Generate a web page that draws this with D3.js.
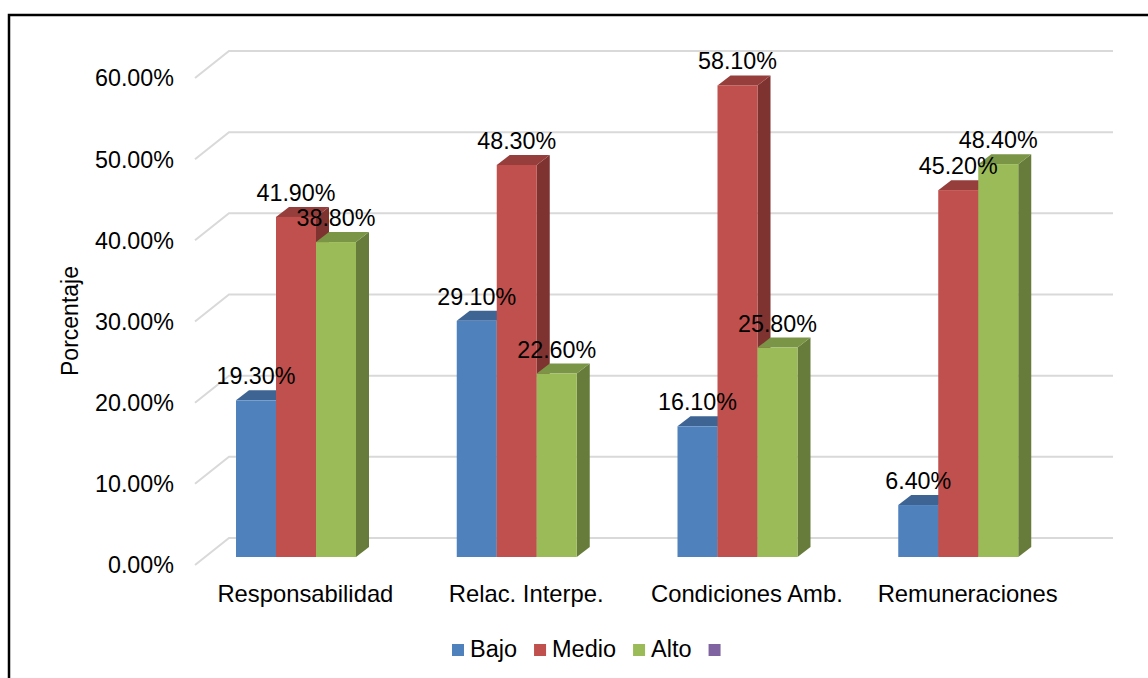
<!DOCTYPE html>
<html>
<head>
<meta charset="utf-8">
<script src="https://cdn.jsdelivr.net/npm/d3@7"></script>
<style>
  body { margin: 0; background: #fff; }
  svg { display: block; }
  text { font-family: "Liberation Sans", Arial, sans-serif; fill: #000; }
</style>
</head>
<body>
<svg width="1148" height="678"></svg>
<script>
// datos
const categories = ['Responsabilidad', 'Relac. Interpe.', 'Condiciones Amb.', 'Remuneraciones'];
const seriesNames = ['Bajo', 'Medio', 'Alto'];
const bajo = [0.193, 0.291, 0.161, 0.064];
const medio = [0.419, 0.483, 0.581, 0.452];
const alto = [0.388, 0.226, 0.258, 0.484];
const yTicks = [0, 0.1, 0.2, 0.3, 0.4, 0.5, 0.6];

const series = [bajo, medio, alto];
const colors = [
  {front: '#4F81BD', top: '#3E6494', side: '#36577F'},
  {front: '#C0504D', top: '#963E3B', side: '#7E3331'},
  {front: '#9BBB59', top: '#7A9546', side: '#677C3A'}
];
const legendColors = ['#4F81BD', '#C0504D', '#9BBB59', '#8064A2'];

const svg = d3.select('svg');
const width = +svg.attr('width');
const height = +svg.attr('height');

// marco
svg.append('rect')
  .attr('x', 9).attr('y', 15)
  .attr('width', width + 20).attr('height', height + 20)
  .attr('fill', 'none').attr('stroke', '#000').attr('stroke-width', 2.5);

// profundidad 3D
const gridDx = 34, gridBack = 19, gridFront = 8;
const barDx = 13, barDy = 10;
const barW = 40;

const x = d3.scaleBand().domain(categories).range([195, 1078]);
const y = d3.scaleLinear().domain([0, 0.6]).range([557, 70]);

// lineas de la cuadricula
const grid = svg.append('g');
yTicks.forEach(t => {
  const yy = y(t);
  grid.append('polyline')
    .attr('points', `195,${yy + gridFront} ${195 + gridDx},${yy - gridBack} 1113,${yy - gridBack}`)
    .attr('fill', 'none').attr('stroke', '#D9D9D9').attr('stroke-width', 2);
});

// etiquetas del eje y
svg.append('g').selectAll('text').data(yTicks).enter()
  .append('text')
    .attr('x', 174)
    .attr('y', d => y(d) + gridFront)
    .attr('dy', '0.36em')
    .attr('text-anchor', 'end')
    .style('font-size', '23.3px')
    .text(d => d3.format('.2%')(d));

// titulo eje y
svg.append('text')
  .attr('transform', 'translate(78,321) rotate(-90)')
  .attr('text-anchor', 'middle')
  .style('font-size', '23px')
  .text('Porcentaje');

// barras
const bars = svg.append('g');
categories.forEach((c, i) => {
  const x0 = x(c) + 41;
  series.forEach((s, j) => {
    const v = s[i];
    const bx = x0 + j * barW;
    const top = y(v);
    const bottom = y(0);
    const col = colors[j];
    // lado
    bars.append('polygon')
      .attr('points', `${bx + barW},${top} ${bx + barW + barDx},${top - barDy} ${bx + barW + barDx},${bottom - barDy} ${bx + barW},${bottom}`)
      .attr('fill', col.side);
    // tapa
    bars.append('polygon')
      .attr('points', `${bx},${top} ${bx + barDx},${top - barDy} ${bx + barW + barDx},${top - barDy} ${bx + barW},${top}`)
      .attr('fill', col.top);
    // frente
    bars.append('rect')
      .attr('x', bx).attr('y', top)
      .attr('width', barW).attr('height', bottom - top)
      .attr('fill', col.front);
  });
});

// etiquetas de datos
const labels = svg.append('g');
categories.forEach((c, i) => {
  const x0 = x(c) + 41;
  series.forEach((s, j) => {
    labels.append('text')
      .attr('x', x0 + j * barW + barW / 2)
      .attr('y', y(s[i]) - 16)
      .attr('text-anchor', 'middle')
      .style('font-size', '23.3px')
      .text(d3.format('.2%')(s[i]));
  });
});

// etiquetas categorias
svg.append('g').selectAll('text').data(categories).enter()
  .append('text')
    .attr('x', d => x(d) + x.bandwidth() / 2)
    .attr('y', 602)
    .attr('text-anchor', 'middle')
    .style('font-size', '23.8px')
    .text(d => d);

// leyenda
const legend = svg.append('g');
let lx = 452;
const legendNames = seriesNames.concat(['']);
legendNames.forEach((n, k) => {
  legend.append('rect')
    .attr('x', lx).attr('y', 644)
    .attr('width', 12).attr('height', 12)
    .attr('fill', legendColors[k]);
  const t = legend.append('text')
    .attr('x', lx + 18).attr('y', 657)
    .style('font-size', '23.5px')
    .text(n);
  lx += 18 + t.node().getComputedTextLength() + 17;
});
</script>
</body>
</html>
